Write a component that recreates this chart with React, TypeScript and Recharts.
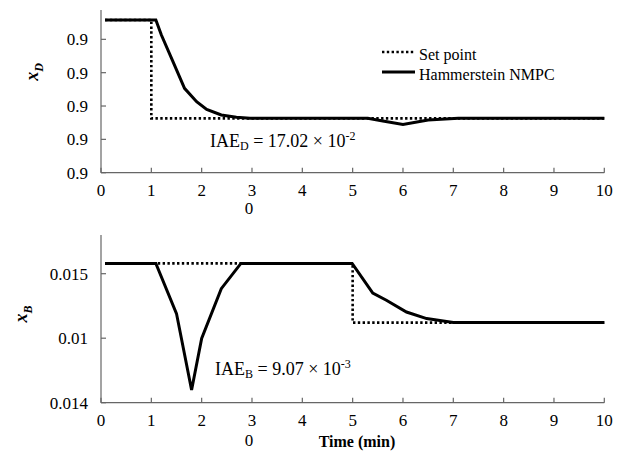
import React from 'react';
import { LineChart, Line, XAxis, YAxis } from 'recharts';

// ---------- data ----------
const timeTicks = [0, 1, 2, 3, 4, 5, 6, 7, 8, 9, 10];

// top panel: x_D
const xdSetpointTime = [0.08, 1.0, 1.0, 10];
const xdSetpointValue = [0.9458, 0.9458, 0.9163, 0.9163];
const xdNmpcTime = [0.08, 1.09, 1.2, 1.43, 1.66, 1.9, 2.1, 2.39, 2.69, 2.96, 5.3, 5.6, 6.0, 6.5, 7.1, 10];
const xdNmpcValue = [0.9458, 0.9458, 0.9413, 0.9333, 0.9253, 0.9213, 0.919, 0.9173, 0.9166, 0.9163, 0.9163, 0.9155, 0.9145, 0.9158, 0.9163, 0.9163];
const xdTicks = [0.9, 0.91, 0.92, 0.93, 0.94];
const xdTickLabels = ['0.9', '0.9', '0.9', '0.9', '0.9'];
const xdDomain = [0.9, 0.9488];

// bottom panel: x_B
const xbSetpointTime = [0.08, 5.0, 5.0, 10];
const xbSetpointValue = [0.01508, 0.01508, 0.014621, 0.014621];
const xbNmpcTime = [0.08, 1.09, 1.5, 1.8, 2.0, 2.39, 2.78, 4.99, 5.4, 5.67, 6.07, 6.47, 7.0, 10];
const xbNmpcValue = [0.01508, 0.01508, 0.014691, 0.014098, 0.014498, 0.014884, 0.01508, 0.01508, 0.01485, 0.014794, 0.014703, 0.014652, 0.014621, 0.014621];
const xbTicks = [0.014, 0.0145, 0.015];
const xbTickLabels = ['0.014', '0.01', '0.015'];
const xbDomain = [0.014, 0.0153];

const seriesNames = ['Set point', 'Hammerstein NMPC'];

const zip = (ts: number[], vs: number[]) => ts.map((t, i) => ({ t, v: vs[i] }));

const FONT = '"Liberation Serif", "Times New Roman", serif';
const AXIS = '#666';

const tickStyle = { fontSize: 17, fill: '#000', fontFamily: FONT };

function Panel(props: {
  height: number;
  top: number;
  bottom: number;
  sp: { t: number; v: number }[];
  nm: { t: number; v: number }[];
  yTicks: number[];
  yLabels: string[];
  yDomain: number[];
}) {
  const { height, top, bottom, sp, nm, yTicks, yLabels, yDomain } = props;
  return (
    <LineChart width={618} height={height} margin={{ top, right: 13.7, bottom, left: 41 }}>
      <XAxis
        dataKey="t"
        type="number"
        domain={[0, 10]}
        ticks={timeTicks}
        height={30}
        tickSize={-5}
        tickMargin={16}
        axisLine={{ stroke: AXIS, strokeWidth: 1.2 }}
        tickLine={{ stroke: AXIS, strokeWidth: 1.2 }}
        tick={tickStyle}
        interval={0}
        allowDuplicatedCategory={false}
      />
      <YAxis
        type="number"
        domain={yDomain}
        ticks={yTicks}
        width={60}
        tickSize={-5}
        tickMargin={18}
        axisLine={{ stroke: AXIS, strokeWidth: 1.2 }}
        tickLine={{ stroke: AXIS, strokeWidth: 1.2 }}
        tick={tickStyle}
        interval={0}
        tickFormatter={(v: number, i: number) => yLabels[i] ?? String(v)}
        allowDataOverflow
      />
      <Line
        data={sp}
        dataKey="v"
        type="linear"
        stroke="#000"
        strokeWidth={2.6}
        strokeDasharray="2.4 2.4"
        dot={false}
        isAnimationActive={false}
        name={seriesNames[0]}
      />
      <Line
        data={nm}
        dataKey="v"
        type="linear"
        stroke="#000"
        strokeWidth={3}
        dot={false}
        isAnimationActive={false}
        name={seriesNames[1]}
      />
    </LineChart>
  );
}

export default function App() {
  return (
    <div style={{ position: 'absolute', left: 0, top: 0, width: 618, height: 452, background: '#fff' }}>
      <div style={{ position: 'absolute', left: 0, top: 0 }}>
        <Panel
          height={220}
          top={10}
          bottom={17.3}
          sp={zip(xdSetpointTime, xdSetpointValue)}
          nm={zip(xdNmpcTime, xdNmpcValue)}
          yTicks={xdTicks}
          yLabels={xdTickLabels}
          yDomain={xdDomain}
        />
      </div>
      <div style={{ position: 'absolute', left: 0, top: 220 }}>
        <Panel
          height={232}
          top={15}
          bottom={19.3}
          sp={zip(xbSetpointTime, xbSetpointValue)}
          nm={zip(xbNmpcTime, xbNmpcValue)}
          yTicks={xbTicks}
          yLabels={xbTickLabels}
          yDomain={xbDomain}
        />
      </div>
      <svg
        width={618}
        height={452}
        style={{ position: 'absolute', left: 0, top: 0, pointerEvents: 'none' }}
        fontFamily={FONT}
      >
        {/* y-axis titles */}
        <text
          transform="translate(38,72) rotate(-90)"
          textAnchor="middle"
          fontSize={18}
          fontWeight="bold"
          fontStyle="italic"
        >
          x<tspan fontSize={12} dy={5}>D</tspan>
        </text>
        <text
          transform="translate(27,314) rotate(-90)"
          textAnchor="middle"
          fontSize={18}
          fontWeight="bold"
          fontStyle="italic"
        >
          x<tspan fontSize={12} dy={5}>B</tspan>
        </text>

        {/* odd "0" x labels */}
        <text x={249} y={214} textAnchor="middle" fontSize={17}>0</text>
        <text x={249} y={446} textAnchor="middle" fontSize={17}>0</text>
        <text x={357} y={447} textAnchor="middle" fontSize={16} fontWeight="bold">Time (min)</text>

        {/* legend */}
        <line x1={382} x2={415} y1={52} y2={52} stroke="#000" strokeWidth={2.6} strokeDasharray="2.4 2.4" />
        <text x={419} y={60} fontSize={16}>{seriesNames[0]}</text>
        <line x1={382} x2={415} y1={72} y2={72} stroke="#000" strokeWidth={3} />
        <text x={419} y={80} fontSize={16}>{seriesNames[1]}</text>

        {/* IAE annotations */}
        <text x={210} y={147} fontSize={18}>
          IAE<tspan fontSize={12} dy={3}>D</tspan>
          <tspan dy={-3}> = 17.02 × 10</tspan>
          <tspan fontSize={12} dy={-7}>-2</tspan>
        </text>
        <text x={215} y={375} fontSize={18}>
          IAE<tspan fontSize={12} dy={3}>B</tspan>
          <tspan dy={-3}> = 9.07 × 10</tspan>
          <tspan fontSize={12} dy={-7}>-3</tspan>
        </text>
      </svg>
    </div>
  );
}
